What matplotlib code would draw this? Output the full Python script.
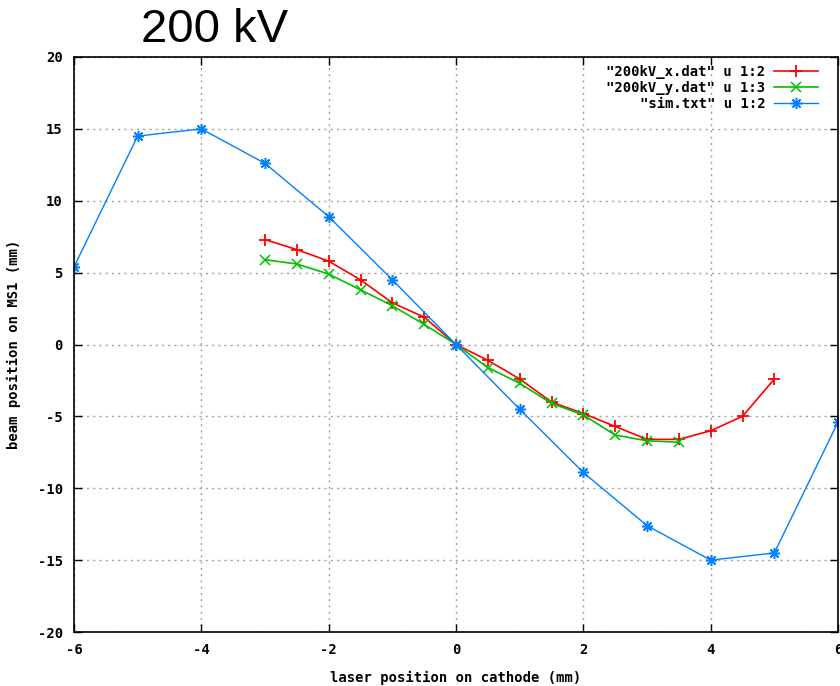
import matplotlib
matplotlib.use("Agg")
import matplotlib.pyplot as plt

plt.rcParams["axes.unicode_minus"] = False

# laser positions (mm)
x_sim = [-6, -5, -4, -3, -2, -1, 0, 1, 2, 3, 4, 5, 6]
y_sim = [5.4, 14.5, 15.0, 12.6, 8.9, 4.5, 0.0, -4.5, -8.9, -12.6, -15.0, -14.5, -5.4]

x_meas_x = [-3, -2.5, -2, -1.5, -1, -0.5, 0, 0.5, 1, 1.5, 2, 2.5, 3, 3.5, 4, 4.5, 5]
y_meas_x = [7.3, 6.6, 5.8, 4.5, 2.9, 1.9, 0.0, -1.1, -2.4, -4.0, -4.8, -5.7, -6.6, -6.6, -6.0, -5.0, -2.4]

x_meas_y = [-3, -2.5, -2, -1.5, -1, -0.5, 0, 0.5, 1, 1.5, 2, 2.5, 3, 3.5]
y_meas_y = [5.9, 5.6, 4.9, 3.8, 2.7, 1.4, 0.0, -1.6, -2.7, -4.1, -4.9, -6.3, -6.7, -6.8]

labels = ['"200kV_x.dat" u 1:2', '"200kV_y.dat" u 1:3', '"sim.txt" u 1:2']
xticks = [-6, -4, -2, 0, 2, 4, 6]
yticks = [-20, -15, -10, -5, 0, 5, 10, 15, 20]

mono = "DejaVu Sans Mono"

fig = plt.figure(figsize=(8.4, 6.86), dpi=100)
ax = fig.add_axes([74 / 840, 1 - 632 / 686, 764 / 840, 575 / 686])

ax.plot(x_meas_x, y_meas_x, color="#ff0000", lw=1.2, marker="+", ms=9, mew=1.3, label=labels[0])
ax.plot(x_meas_y, y_meas_y, color="#00c000", lw=1.2, marker="x", ms=7, mew=1.1, label=labels[1])
ax.plot(x_sim, y_sim, color="#0080ff", lw=1.0, marker=(8, 2, 0), ms=8, mew=1.1, label=labels[2])

ax.set_xlim(-6, 6)
ax.set_ylim(-20, 20)
ax.set_xticks(xticks)
ax.set_yticks(yticks)
ax.grid(True, color="#a0a0a0", linestyle=(0, (1.5, 3)), lw=1)
ax.tick_params(direction="in", top=True, right=True, length=6, width=1, pad=8)
for lab in ax.get_xticklabels() + ax.get_yticklabels():
    lab.set_fontfamily(mono)
    lab.set_fontweight("bold")
    lab.set_fontsize(10)
for s in ax.spines.values():
    s.set_linewidth(1.2)

ax.set_xlabel("laser position on cathode (mm)", family=mono, weight="bold", fontsize=10, labelpad=10)
ax.set_ylabel("beam position on MS1 (mm)", family=mono, weight="bold", fontsize=10, labelpad=12)

leg = ax.legend(loc="upper right", bbox_to_anchor=(1 - 12 / 764, 1.0), frameon=False,
                markerfirst=False, prop={"family": mono, "weight": "bold", "size": 10},
                handlelength=3.2, borderaxespad=0.15, labelspacing=0.15, handletextpad=0.6)
for t in leg.get_texts():
    t.set_ha("right")
leg._legend_box.align = "right"

fig.text(215 / 840, 1 - 30 / 686, "200 kV", family="Liberation Sans", fontsize=34,
         ha="center", va="center")

fig.savefig("out.png", dpi=100)
